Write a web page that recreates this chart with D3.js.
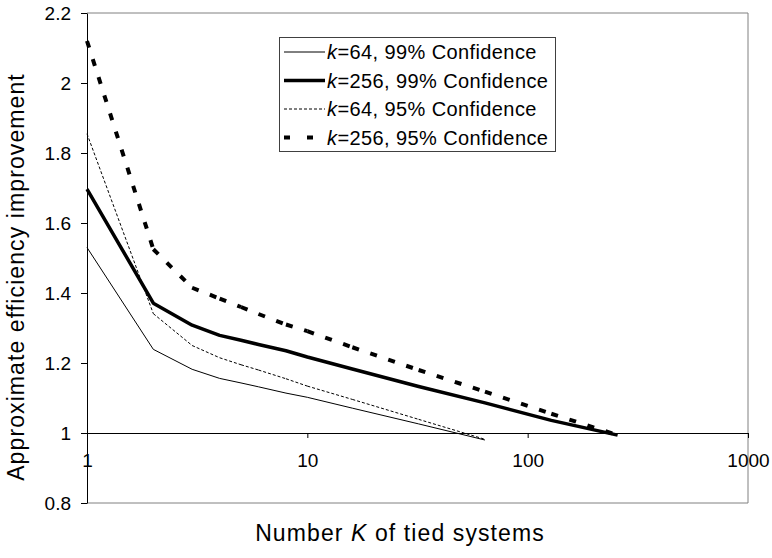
<!DOCTYPE html>
<html>
<head>
<meta charset="utf-8">
<script src="https://cdn.jsdelivr.net/npm/d3@7"></script>
<style>
body { margin: 0; background: #fff; }
text { font-family: "Liberation Sans", Arial, sans-serif; fill: #000; }
</style>
</head>
<body>
<svg width="772" height="558"></svg>
<script>
// number of tied systems
var K64 = [1, 2, 3, 4, 5, 6, 8, 10, 16, 32, 64];
var K256 = [1, 2, 3, 4, 5, 6, 8, 10, 16, 32, 64, 128, 256];

// approximate efficiency improvement
var k64conf99 = [1.530, 1.239, 1.182, 1.156, 1.143, 1.132, 1.114, 1.102, 1.071, 1.026, 0.980];
var k256conf99 = [1.697, 1.371, 1.308, 1.279, 1.265, 1.253, 1.235, 1.217, 1.183, 1.133, 1.086, 1.036, 0.994];
var k64conf95 = [1.855, 1.341, 1.250, 1.215, 1.195, 1.180, 1.155, 1.134, 1.096, 1.039, 0.982];
var k256conf95 = [2.120, 1.525, 1.415, 1.384, 1.360, 1.340, 1.310, 1.291, 1.245, 1.180, 1.118, 1.055, 0.994];

var yTicks = [0.8, 1, 1.2, 1.4, 1.6, 1.8, 2, 2.2];
var xTicks = [1, 10, 100, 1000];

var seriesNames = ["64, 99% Confidence", "256, 99% Confidence", "64, 95% Confidence", "256, 95% Confidence"];

var svg = d3.select("svg");

var x = d3.scaleLog().domain([1, 1000]).range([87, 748]);
var y = d3.scaleLinear().domain([0.8, 2.2]).range([503, 13]);

// grey plot frame
svg.append("path")
  .attr("d", "M" + x(1) + "," + y(2.2) + "H" + x(1000) + "V" + y(0.8) + "H" + x(1))
  .attr("fill", "none")
  .attr("stroke", "#808080")
  .attr("stroke-width", 1);

// y axis
svg.append("g")
  .attr("transform", "translate(" + x(1) + ",0)")
  .call(d3.axisLeft(y).tickValues(yTicks).tickSize(6).tickSizeOuter(0).tickPadding(10)
    .tickFormat(function(d) { return d; }))
  .call(function(g) {
    g.selectAll("text").attr("font-size", "19px").attr("font-family", null);
    g.selectAll("line, path").attr("stroke", "#000");
  });

// x axis crosses at 1
svg.append("g")
  .attr("transform", "translate(0," + y(1) + ")")
  .call(d3.axisBottom(x).tickValues(xTicks).tickSize(5).tickSizeOuter(0).tickPadding(16)
    .tickFormat(function(d) { return d; }))
  .call(function(g) {
    g.selectAll("text").attr("font-size", "19px").attr("font-family", null);
    g.selectAll("line, path").attr("stroke", "#000");
  });

var line = d3.line()
  .x(function(d) { return x(d[0]); })
  .y(function(d) { return y(d[1]); });

var series = [
  { ks: K64, vals: k64conf99, width: 1, dash: null, keyDash: null },
  { ks: K256, vals: k256conf99, width: 3.5, dash: null, keyDash: null },
  { ks: K64, vals: k64conf95, width: 1, dash: "3,2", keyDash: "3,2" },
  { ks: K256, vals: k256conf95, width: 4, dash: "7,12", keyDash: "6,17" }
];

series.forEach(function(s) {
  var pts = s.ks.map(function(k, i) { return [k, s.vals[i]]; });
  if (!s.dash) {
    svg.append("path")
      .attr("d", line(pts))
      .attr("fill", "none")
      .attr("stroke", "#000")
      .attr("stroke-width", s.width)
      .attr("stroke-linejoin", "round");
  } else {
    // dash pattern restarts on every segment, like the original
    d3.pairs(pts).forEach(function(p) {
      svg.append("path")
        .attr("d", line(p))
        .attr("fill", "none")
        .attr("stroke", "#000")
        .attr("stroke-width", s.width)
        .attr("stroke-dasharray", s.dash);
    });
  }
});

// legend
var legend = svg.append("g");
legend.append("rect")
  .attr("x", 279.5).attr("y", 37.5)
  .attr("width", 276).attr("height", 114)
  .attr("fill", "#fff")
  .attr("stroke", "#404040");

series.forEach(function(s, i) {
  var cy = 52 + i * 28.5;
  legend.append("line")
    .attr("x1", 284).attr("x2", 325)
    .attr("y1", cy).attr("y2", cy)
    .attr("stroke", "#000")
    .attr("stroke-width", s.width)
    .attr("stroke-dasharray", s.keyDash);
  var t = legend.append("text")
    .attr("x", 327).attr("y", cy + 7)
    .attr("font-size", "20px")
    .attr("letter-spacing", "0.4px");
  t.append("tspan").attr("font-style", "italic").text("k");
  t.append("tspan").text("=" + seriesNames[i]);
});

// axis titles
var xt = svg.append("text")
  .attr("x", 400).attr("y", 541)
  .attr("text-anchor", "middle")
  .attr("font-size", "23px")
  .attr("letter-spacing", "1.1px");
xt.append("tspan").text("Number ");
xt.append("tspan").attr("font-style", "italic").text("K");
xt.append("tspan").text(" of tied systems");

svg.append("text")
  .attr("transform", "translate(24,277) rotate(-90)")
  .attr("text-anchor", "middle")
  .attr("font-size", "23px")
  .attr("letter-spacing", "1.1px")
  .text("Approximate efficiency improvement");
</script>
</body>
</html>
